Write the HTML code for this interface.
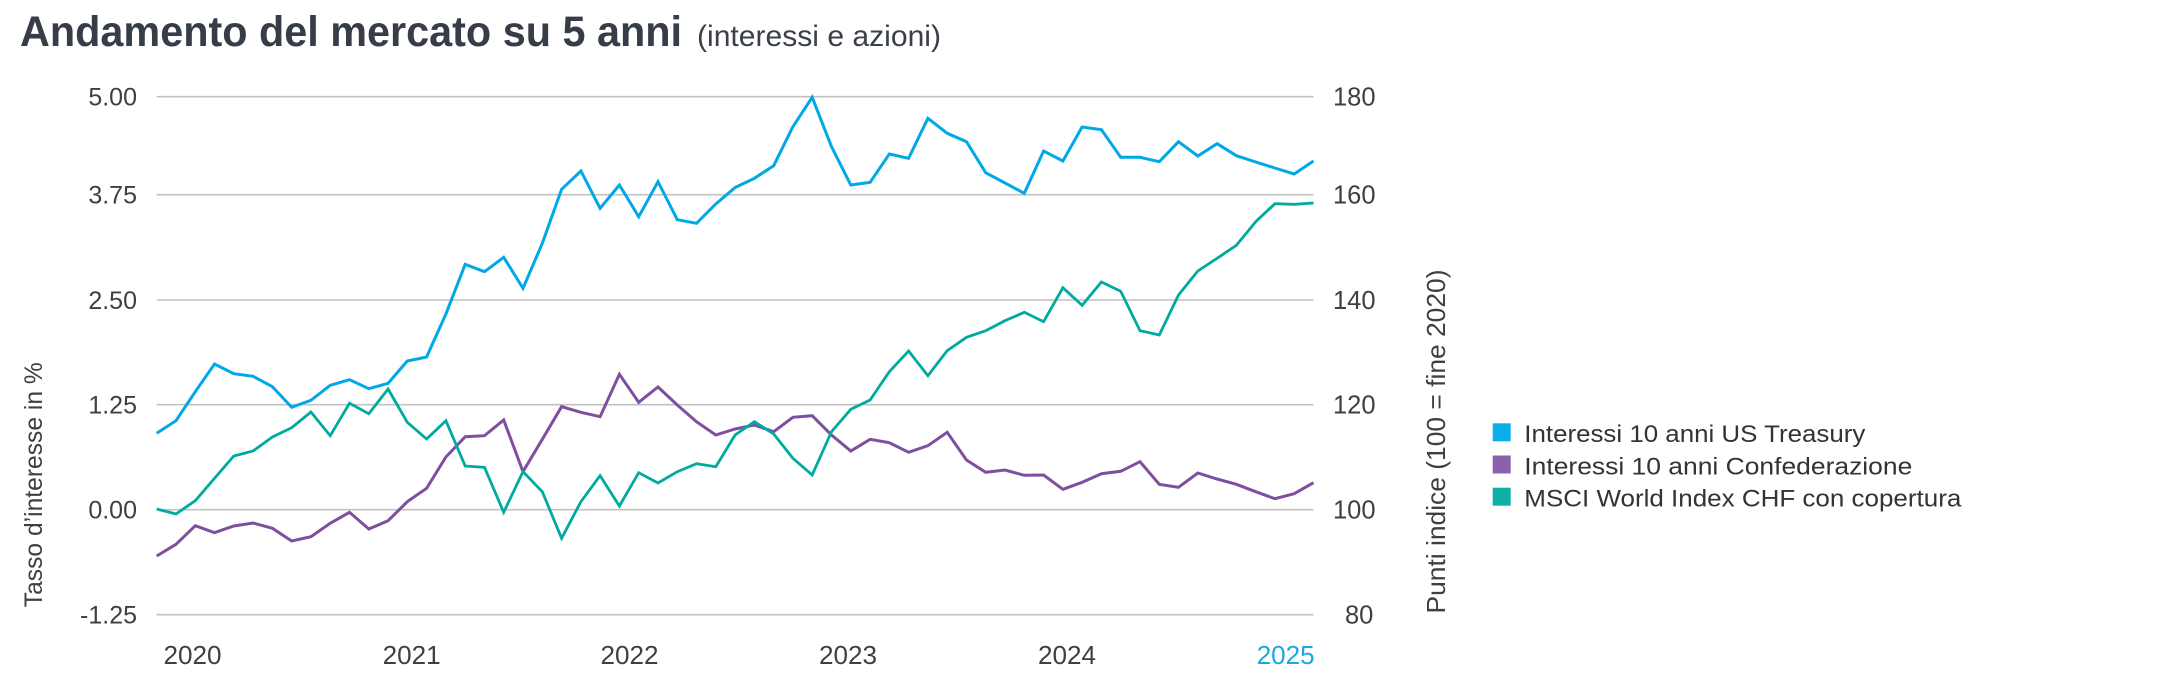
<!DOCTYPE html>
<html>
<head>
<meta charset="utf-8">
<style>
html,body{margin:0;padding:0;background:#fff;}
svg{display:block;}
text{font-family:"Liberation Sans",sans-serif;}
</style>
</head>
<body>
<svg width="2163" height="673" viewBox="0 0 2163 673" xmlns="http://www.w3.org/2000/svg">
<rect width="2163" height="673" fill="#fff"/>
<!-- Title -->
<text x="20" y="46" font-size="43" font-weight="bold" fill="#363d48" textLength="662" lengthAdjust="spacingAndGlyphs">Andamento del mercato su 5 anni</text>
<text x="697" y="46" font-size="30" fill="#3a3f48" textLength="244" lengthAdjust="spacingAndGlyphs">(interessi e azioni)</text>

<!-- Gridlines -->
<g stroke="#c2c2c2" stroke-width="1.6">
<line x1="156.7" y1="96.7" x2="1313.5" y2="96.7"/>
<line x1="156.7" y1="194.7" x2="1313.5" y2="194.7"/>
<line x1="156.7" y1="300" x2="1313.5" y2="300"/>
<line x1="156.7" y1="404.7" x2="1313.5" y2="404.7"/>
<line x1="156.7" y1="509.7" x2="1313.5" y2="509.7"/>
<line x1="156.7" y1="614.7" x2="1313.5" y2="614.7"/>
</g>

<!-- Left ticks -->
<g font-size="25" fill="#3f3f3f" text-anchor="end">
<text x="137" y="105.7">5.00</text>
<text x="137" y="203.7">3.75</text>
<text x="137" y="309">2.50</text>
<text x="137" y="413.7">1.25</text>
<text x="137" y="518.7">0.00</text>
<text x="137" y="623.7">-1.25</text>
</g>
<!-- Right ticks -->
<g font-size="25.5" fill="#3f3f3f" text-anchor="start">
<text x="1333" y="105.7">180</text>
<text x="1333" y="203.7">160</text>
<text x="1333" y="309">140</text>
<text x="1333" y="413.7">120</text>
<text x="1333" y="518.7">100</text>
<text x="1345" y="623.7">80</text>
</g>

<!-- Axis titles -->
<text transform="translate(42,484.7) rotate(-90)" font-size="25" fill="#3f3f3f" text-anchor="middle" textLength="245" lengthAdjust="spacingAndGlyphs">Tasso d’interesse in %</text>
<text transform="translate(1445,441.5) rotate(-90)" font-size="26" fill="#3f3f3f" text-anchor="middle" textLength="344" lengthAdjust="spacingAndGlyphs">Punti indice (100 = fine 2020)</text>

<!-- X labels -->
<g font-size="26" fill="#3f3f3f" text-anchor="middle">
<text x="192.5" y="664" textLength="58" lengthAdjust="spacingAndGlyphs">2020</text>
<text x="411.6" y="664" textLength="58" lengthAdjust="spacingAndGlyphs">2021</text>
<text x="629.5" y="664" textLength="58" lengthAdjust="spacingAndGlyphs">2022</text>
<text x="848" y="664" textLength="58" lengthAdjust="spacingAndGlyphs">2023</text>
<text x="1067" y="664" textLength="58" lengthAdjust="spacingAndGlyphs">2024</text>
<text x="1285.7" y="664" textLength="58" lengthAdjust="spacingAndGlyphs" fill="#1ba8e2">2025</text>
</g>

<!-- Series -->
<g fill="none" stroke-linejoin="miter" stroke-miterlimit="3">
<polyline stroke="#00a8e8" stroke-width="3" points="156.7,433.3 176,420.7 195.3,391.7 214.5,364 233.8,373.7 253.1,376.3 272.4,386.7 291.7,407.3 310.9,400.3 330.2,385.3 349.5,379.7 368.8,388.7 388.1,383.3 407.3,361 426.6,357 445.9,314 465.2,264.3 484.5,271.7 503.7,257.3 523,288.3 542.3,243.3 561.6,189.3 580.9,171 600.1,208.3 619.4,185 638.7,216.7 658,181.7 677.3,219.7 696.5,223.3 715.8,204 735.1,187.5 754.4,178.3 773.7,165.7 792.9,126.7 812.2,97.3 831.5,146.7 850.8,185 870.1,182.3 889.3,154 908.6,158.3 927.9,118.3 947.2,133.3 966.5,141.7 985.7,172.7 1005,183 1024.3,193.3 1043.6,151 1062.9,161 1082.1,127 1101.4,129.7 1120.7,157.3 1140,157.3 1159.3,161.7 1178.5,141.7 1197.8,156 1217.1,143.7 1236.4,155.7 1255.7,162 1274.9,168 1294.2,174 1313.5,161"/>
<polyline stroke="#7e4f9f" stroke-width="3" points="156.7,556 176,544.3 195.3,525.7 214.5,532.7 233.8,526 253.1,523 272.4,528.3 291.7,541 310.9,536.7 330.2,523.3 349.5,512.3 368.8,529 388.1,520.7 407.3,501.7 426.6,488.3 445.9,457 465.2,436.7 484.5,435.7 503.7,420 523,471.7 542.3,439.3 561.6,406.7 580.9,412.3 600.1,416.7 619.4,374.3 638.7,402.3 658,387 677.3,405 696.5,421.7 715.8,435 735.1,429 754.4,425 773.7,431.7 792.9,417.3 812.2,415.7 831.5,435 850.8,451 870.1,439.3 889.3,442.7 908.6,452.3 927.9,445.7 947.2,432.3 966.5,460 985.7,472.3 1005,470 1024.3,475.3 1043.6,475 1062.9,489.3 1082.1,482.3 1101.4,473.7 1120.7,471.3 1140,461.7 1159.3,484.3 1178.5,487.3 1197.8,473 1217.1,479 1236.4,484.3 1255.7,491.7 1274.9,498.7 1294.2,493.7 1313.5,482.7"/>
<polyline stroke="#00aa9f" stroke-width="2.8" points="156.7,509 176,514 195.3,500.7 214.5,478.3 233.8,456 253.1,451 272.4,437 291.7,427.7 310.9,412 330.2,435.7 349.5,403.3 368.8,413.7 388.1,389 407.3,422.3 426.6,439 445.9,420.7 465.2,466 484.5,467.3 503.7,512.3 523,471.7 542.3,491.7 561.6,538.3 580.9,501.7 600.1,475.7 619.4,506 638.7,472.7 658,483 677.3,471.7 696.5,463.7 715.8,466.7 735.1,435 754.4,421.7 773.7,434 792.9,458.3 812.2,475 831.5,431.7 850.8,409.3 870.1,400 889.3,371.7 908.6,351 927.9,375.7 947.2,350.7 966.5,337.3 985.7,330.7 1005,320.7 1024.3,312.3 1043.6,321.7 1062.9,287.7 1082.1,305.3 1101.4,282 1120.7,291.3 1140,330.7 1159.3,335 1178.5,295 1197.8,271 1217.1,258.3 1236.4,245.3 1255.7,221.7 1274.9,203.7 1294.2,204.3 1313.5,203"/>
</g>

<!-- Legend -->
<rect x="1492.7" y="423.3" width="18" height="18" fill="#0aaee8"/>
<rect x="1492.7" y="455.5" width="18" height="18" fill="#8a62ab"/>
<rect x="1492.7" y="487.7" width="18" height="18" fill="#0eb0a5"/>
<g font-size="24" fill="#333">
<text x="1524.3" y="442" textLength="341" lengthAdjust="spacingAndGlyphs">Interessi 10 anni US Treasury</text>
<text x="1524.3" y="474.5" textLength="388" lengthAdjust="spacingAndGlyphs">Interessi 10 anni Confederazione</text>
<text x="1524.3" y="506.5" textLength="437" lengthAdjust="spacingAndGlyphs">MSCI World Index CHF con copertura</text>
</g>
</svg>
</body>
</html>
